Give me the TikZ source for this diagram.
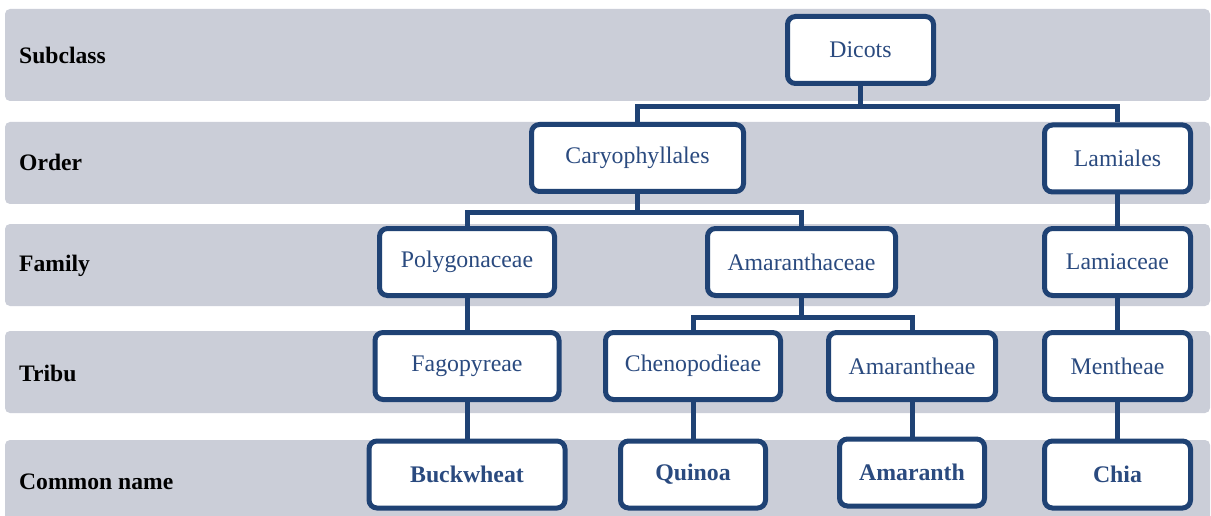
\documentclass[tikz,border=0pt]{standalone}
\usepackage{fontspec}
\setmainfont{Liberation Serif}
\definecolor{bandgray}{HTML}{CBCED8}
\definecolor{boxblue}{HTML}{1F4274}
\definecolor{textblue}{HTML}{2A4A7F}
\begin{document}
\begin{tikzpicture}[x=1pt,y=-1pt,
  band/.style={fill=bandgray, rounded corners=5pt},
  rowlabel/.style={anchor=west, inner sep=0pt, font=\fontsize{23.6}{28}\selectfont\bfseries, text=black},
  taxbox/.style={draw=boxblue, line width=5pt, fill=white, rounded corners=8pt,
    minimum height=67pt, inner sep=0pt, text=textblue, font=\fontsize{23.8}{28}\selectfont},
  namebox/.style={taxbox, font=\fontsize{23.8}{28}\selectfont\bfseries},
  link/.style={draw=boxblue, line width=5pt, line join=miter}
]
\clip (0,0) rectangle (1211,516);
\fill[white] (0,0) rectangle (1211,516);
% bands
\fill[band] (5,9) rectangle (1210,101);
\fill[band] (5,122) rectangle (1210,204);
\fill[band] (5,224) rectangle (1210,306);
\fill[band] (5,331) rectangle (1210,413);
\fill[band] (5,440) rectangle (1210,530);
% row labels
\node[rowlabel] (lsub) at (19,55) {Subclass};
\node[rowlabel] (lord) at (19,162) {Order};
\node[rowlabel] (lfam) at (19,266) {Family};
\node[rowlabel] (ltri) at (19,373) {Tribu};
\node[rowlabel] (lcom) at (19,482) {Common name};
% boxes
\node[taxbox, minimum width=146pt] (dicots) at (860.5,50) {Dicots};
\node[taxbox, minimum width=212pt] (caryo) at (637.5,158) {Caryophyllales};
\node[taxbox, minimum width=146pt] (lamiales) at (1117.5,158.5) {Lamiales};
\node[taxbox, minimum width=175pt] (polyg) at (467,262) {Polygonaceae};
\node[taxbox, minimum width=188pt] (amaranthaceae) at (801.5,262) {Amaranthaceae};
\node[taxbox, minimum width=146pt] (lamiaceae) at (1117.5,262) {Lamiaceae};
\node[taxbox, minimum width=184pt] (fago) at (467,366) {Fagopyreae};
\node[taxbox, minimum width=175pt] (cheno) at (693,366) {Chenopodieae};
\node[taxbox, minimum width=167pt] (amarantheae) at (912,366) {Amarantheae};
\node[taxbox, minimum width=146pt] (mentheae) at (1117.5,366) {Mentheae};
\node[namebox, minimum width=196pt] (buckwheat) at (467,474.5) {Buckwheat};
\node[namebox, minimum width=145pt] (quinoa) at (693,474.5) {Quinoa};
\node[namebox, minimum width=145pt] (amaranth) at (912,472.5) {Amaranth};
\node[namebox, minimum width=146pt] (chia) at (1117.5,474.5) {Chia};
% connectors
\draw[link] (dicots.south) -- ++(0,20.5) -| (caryo.north);
\draw[link] (dicots.south) -- ++(0,20.5) -| (lamiales.north);
\draw[link] (caryo.south) -- ++(0,18.5) -| (polyg.north);
\draw[link] (caryo.south) -- ++(0,18.5) -| (amaranthaceae.north);
\draw[link] (amaranthaceae.south) -- ++(0,19.5) -| (cheno.north);
\draw[link] (amaranthaceae.south) -- ++(0,19.5) -| (amarantheae.north);
\draw[link] (lamiales.south) -- (lamiaceae.north);
\draw[link] (lamiaceae.south) -- (mentheae.north);
\draw[link] (mentheae.south) -- (chia.north);
\draw[link] (polyg.south) -- (fago.north);
\draw[link] (fago.south) -- (buckwheat.north);
\draw[link] (cheno.south) -- (quinoa.north);
\draw[link] (amarantheae.south) -- (amaranth.north);
\end{tikzpicture}
\end{document}
